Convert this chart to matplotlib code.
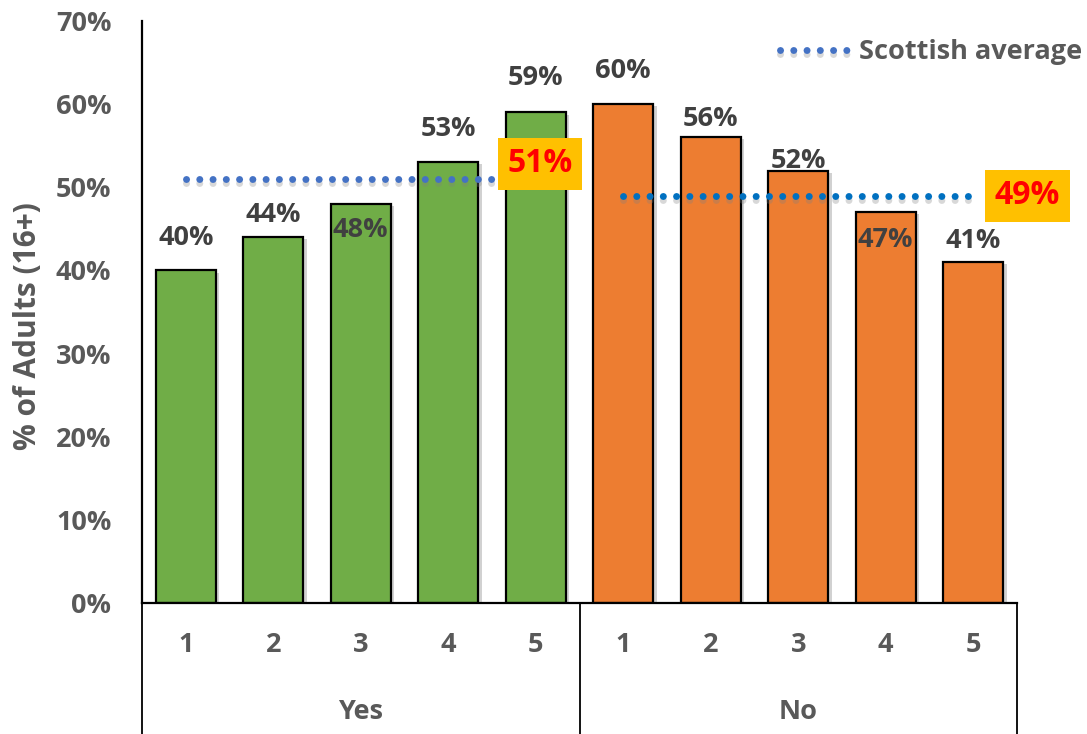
import matplotlib.pyplot as plt
import matplotlib.patheffects as pe
from matplotlib.transforms import blended_transform_factory
import numpy as np

plt.rcParams["font.family"] = ["Open Sans", "DejaVu Sans"]
plt.rcParams["font.weight"] = "bold"
plt.rcParams["axes.labelweight"] = "bold"

# data
groups = ["Yes", "No"]
levels = ["1", "2", "3", "4", "5"]
yes_vals = [40, 44, 48, 53, 59]
no_vals = [60, 56, 52, 47, 41]
yes_avg = 51
no_avg = 49

# label nudges (points above bar top; negative = inside the bar)
label_offsets = [23, 16, -19, 24, 25, 24, 13, 7, -20, 15]

GREEN = "#70AD47"
ORANGE = "#ED7D31"
GREY = "#595959"
DARK = "#404040"
FS = 19.5

fig = plt.figure(figsize=(10.87, 7.34), dpi=100)
ax = fig.add_axes([142 / 1087, 1 - 603 / 734, 875 / 1087, 582 / 734])

vals = yes_vals + no_vals
x = np.arange(len(vals))
colors = [GREEN] * len(yes_vals) + [ORANGE] * len(no_vals)
shadow = [pe.SimplePatchShadow(offset=(2.5, -1.5), shadow_rgbFace="black", alpha=0.18), pe.Normal()]
bars = ax.bar(x, vals, width=0.69, color=colors, edgecolor="black", linewidth=1.6, zorder=2)
for b in bars:
    b.set_path_effects(shadow)

for xi, v, off in zip(x, vals, label_offsets):
    ax.annotate(f"{v}%", (xi, v), xytext=(0, off), textcoords="offset points",
                ha="center", va="center", fontsize=FS, fontweight="bold", color=DARK, zorder=5)

# Scottish average lines
line_shadow = [pe.SimpleLineShadow(offset=(0, -3), shadow_color="gray", alpha=0.3), pe.Normal()]
dots = dict(linestyle=(0, (0.01, 1.9)), linewidth=5, dash_capstyle="round", zorder=4)
xs_yes = x[:len(yes_vals)]
xs_no = x[len(yes_vals):]
ln, = ax.plot(xs_yes, [yes_avg] * len(xs_yes), color="#4472C4", label="Scottish average", **dots)
ln.set_path_effects(line_shadow)
ln2, = ax.plot(xs_no, [no_avg] * len(xs_no), color="#0070C0", **dots)
ln2.set_path_effects(line_shadow)

box = dict(boxstyle="square,pad=0.3", facecolor="#FFC000", edgecolor="none")
ax.annotate(f"{yes_avg}%", (xs_yes[-1], yes_avg), xytext=(3, 11), textcoords="offset points",
            ha="center", va="center", fontsize=23, fontweight="bold", color="#FF0000",
            bbox=box, zorder=6)
ax.annotate(f"{no_avg}%", (xs_no[-1], no_avg), xytext=(39, 0), textcoords="offset points",
            ha="center", va="center", fontsize=23, fontweight="bold", color="#FF0000",
            bbox=box, zorder=6)

# axes
ax.set_xlim(-0.5, len(vals) - 0.5)
ax.set_ylim(0, 70)
ax.set_yticks(range(0, 71, 10))
ax.set_yticklabels([f"{t}%" for t in range(0, 71, 10)], fontweight="bold")
ax.tick_params(axis="y", length=0, pad=22, labelsize=FS, labelcolor=GREY)
ax.set_xticks([])
for s in ["top", "right"]:
    ax.spines[s].set_visible(False)
ax.spines["left"].set_linewidth(1.6)
ax.spines["bottom"].set_linewidth(1.6)
ax.set_ylabel("% of Adults (16+)", fontsize=21.5, fontweight="bold", color=GREY)
ax.yaxis.set_label_coords(-0.113, 0.475)

# two-level category axis
trans = blended_transform_factory(ax.transData, ax.transAxes)
for xi in x:
    ax.text(xi, -0.072, levels[xi % len(levels)], transform=trans, ha="center", va="center",
            fontsize=FS, fontweight="bold", color=GREY)
for gi, g in enumerate(groups):
    ax.text(gi * 5 + 2, -0.187, g, transform=trans, ha="center", va="center",
            fontsize=FS, fontweight="bold", color=GREY)
for xb in [-0.5, 4.5, 9.5]:
    ax.plot([xb, xb], [0, -0.3], transform=trans, color="black", linewidth=1.3, clip_on=False)

ax.legend(handles=[ln], loc="center right", bbox_to_anchor=(1082 / 1087, 1 - 52 / 734),
          bbox_transform=fig.transFigure, frameon=False, labelcolor=GREY,
          prop={"size": FS, "weight": "bold"},
          handlelength=2.7, handletextpad=0.2, borderpad=0, borderaxespad=0)

fig.savefig("out.png", dpi=100)
